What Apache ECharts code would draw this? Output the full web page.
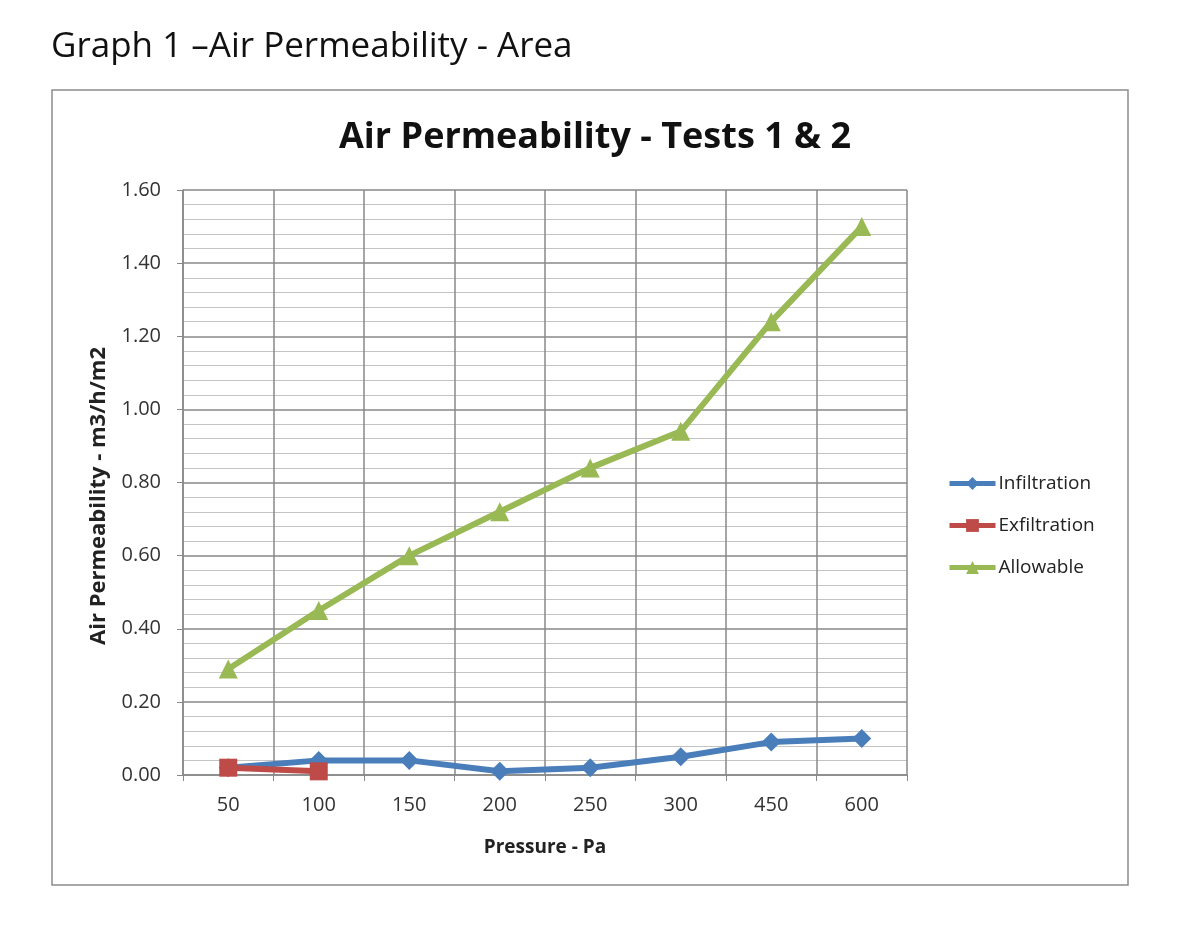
<!DOCTYPE html>
<html><head><meta charset="utf-8">
<script src="https://cdn.jsdelivr.net/npm/echarts@6/dist/echarts.min.js"></script>
<style>html,body{margin:0;padding:0;background:#fff}#c{width:1203px;height:931px}</style>
</head><body><div id="c"></div>
<script>
const categories = ['50','100','150','200','250','300','450','600'];
const infiltration = [0.02,0.04,0.04,0.01,0.02,0.05,0.09,0.10];
const exfiltration = [0.02,0.01,null,null,null,null,null,null];
const allowable = [0.29,0.45,0.60,0.72,0.84,0.94,1.24,1.50];
const yTicks = {min:0, max:1.6, interval:0.2};

const chart = echarts.init(document.getElementById('c'));
const F = '"Open Sans", "Noto Sans", sans-serif';
chart.setOption({
  animation:false,
  graphic:[
    {type:'rect', shape:{x:52,y:90,width:1076,height:795}, style:{fill:'none',stroke:'#8c8c8c',lineWidth:1.5}, z:-1},
    {type:'text', x:99, y:496, rotation:Math.PI/2,
      style:{text:'Air Permeability - m3/h/m2', font:'bold 22px "Open Sans", "Noto Sans", sans-serif', fill:'#222', textAlign:'center', textVerticalAlign:'middle'}}
  ],
  title:[
    {text:'Graph 1 \u2013Air Permeability - Area', left:46, top:25, textStyle:{fontFamily:F,fontWeight:'normal',fontSize:35,color:'#111'}},
    {text:'Air Permeability - Tests 1 & 2', left:590, textAlign:'center', top:115, textStyle:{fontFamily:F,fontWeight:'bold',fontSize:36,color:'#111'}}
  ],
  grid:{left:183,right:296,top:190,bottom:156},
  legend:{orient:'vertical', left:942, top:469, itemGap:23, itemWidth:46, itemHeight:16,
    lineStyle:{width:5},
    textStyle:{fontFamily:F,fontSize:19,color:'#222',padding:[0,0,0,-2]}, data:['Infiltration','Exfiltration','Allowable']},
  xAxis:{type:'category', data:categories, boundaryGap:true,
    name:'Pressure - Pa', nameLocation:'middle', nameGap:63,
    nameTextStyle:{fontFamily:F,fontWeight:'bold',fontSize:19,color:'#222'},
    axisLine:{lineStyle:{color:'#888',width:1.5}}, axisTick:{show:true,length:6,lineStyle:{color:'#888'}},
    axisLabel:{fontFamily:F,fontSize:20,color:'#333',margin:20},
    splitLine:{show:true,interval:0,lineStyle:{color:'#888',width:1.5}}},
  yAxis:{type:'value', min:yTicks.min, max:yTicks.max, interval:yTicks.interval,
    axisLine:{show:true,lineStyle:{color:'#888',width:1.5}}, axisTick:{show:true,length:6,lineStyle:{color:'#888'}},
    axisLabel:{fontFamily:F,fontSize:20,color:'#333',margin:22,formatter:v=>v.toFixed(2)},
    splitLine:{show:true,lineStyle:{color:'#888',width:1.5}},
    minorTick:{show:false,splitNumber:5},
    minorSplitLine:{show:true,lineStyle:{color:'#c4c4c4',width:1.2}}},
  series:[
    {name:'Infiltration', type:'line', data:infiltration, symbol:'diamond', symbolSize:19,
      itemStyle:{color:'#4a7ebb'}, lineStyle:{color:'#4a7ebb',width:6}, z:3},
    {name:'Exfiltration', type:'line', data:exfiltration, symbol:'rect', symbolSize:18,
      itemStyle:{color:'#be4b48'}, lineStyle:{color:'#be4b48',width:6}, z:4},
    {name:'Allowable', type:'line', data:allowable, symbol:'triangle', symbolSize:19,
      itemStyle:{color:'#98b954'}, lineStyle:{color:'#98b954',width:6}, z:2}
  ]
});
</script></body></html>
